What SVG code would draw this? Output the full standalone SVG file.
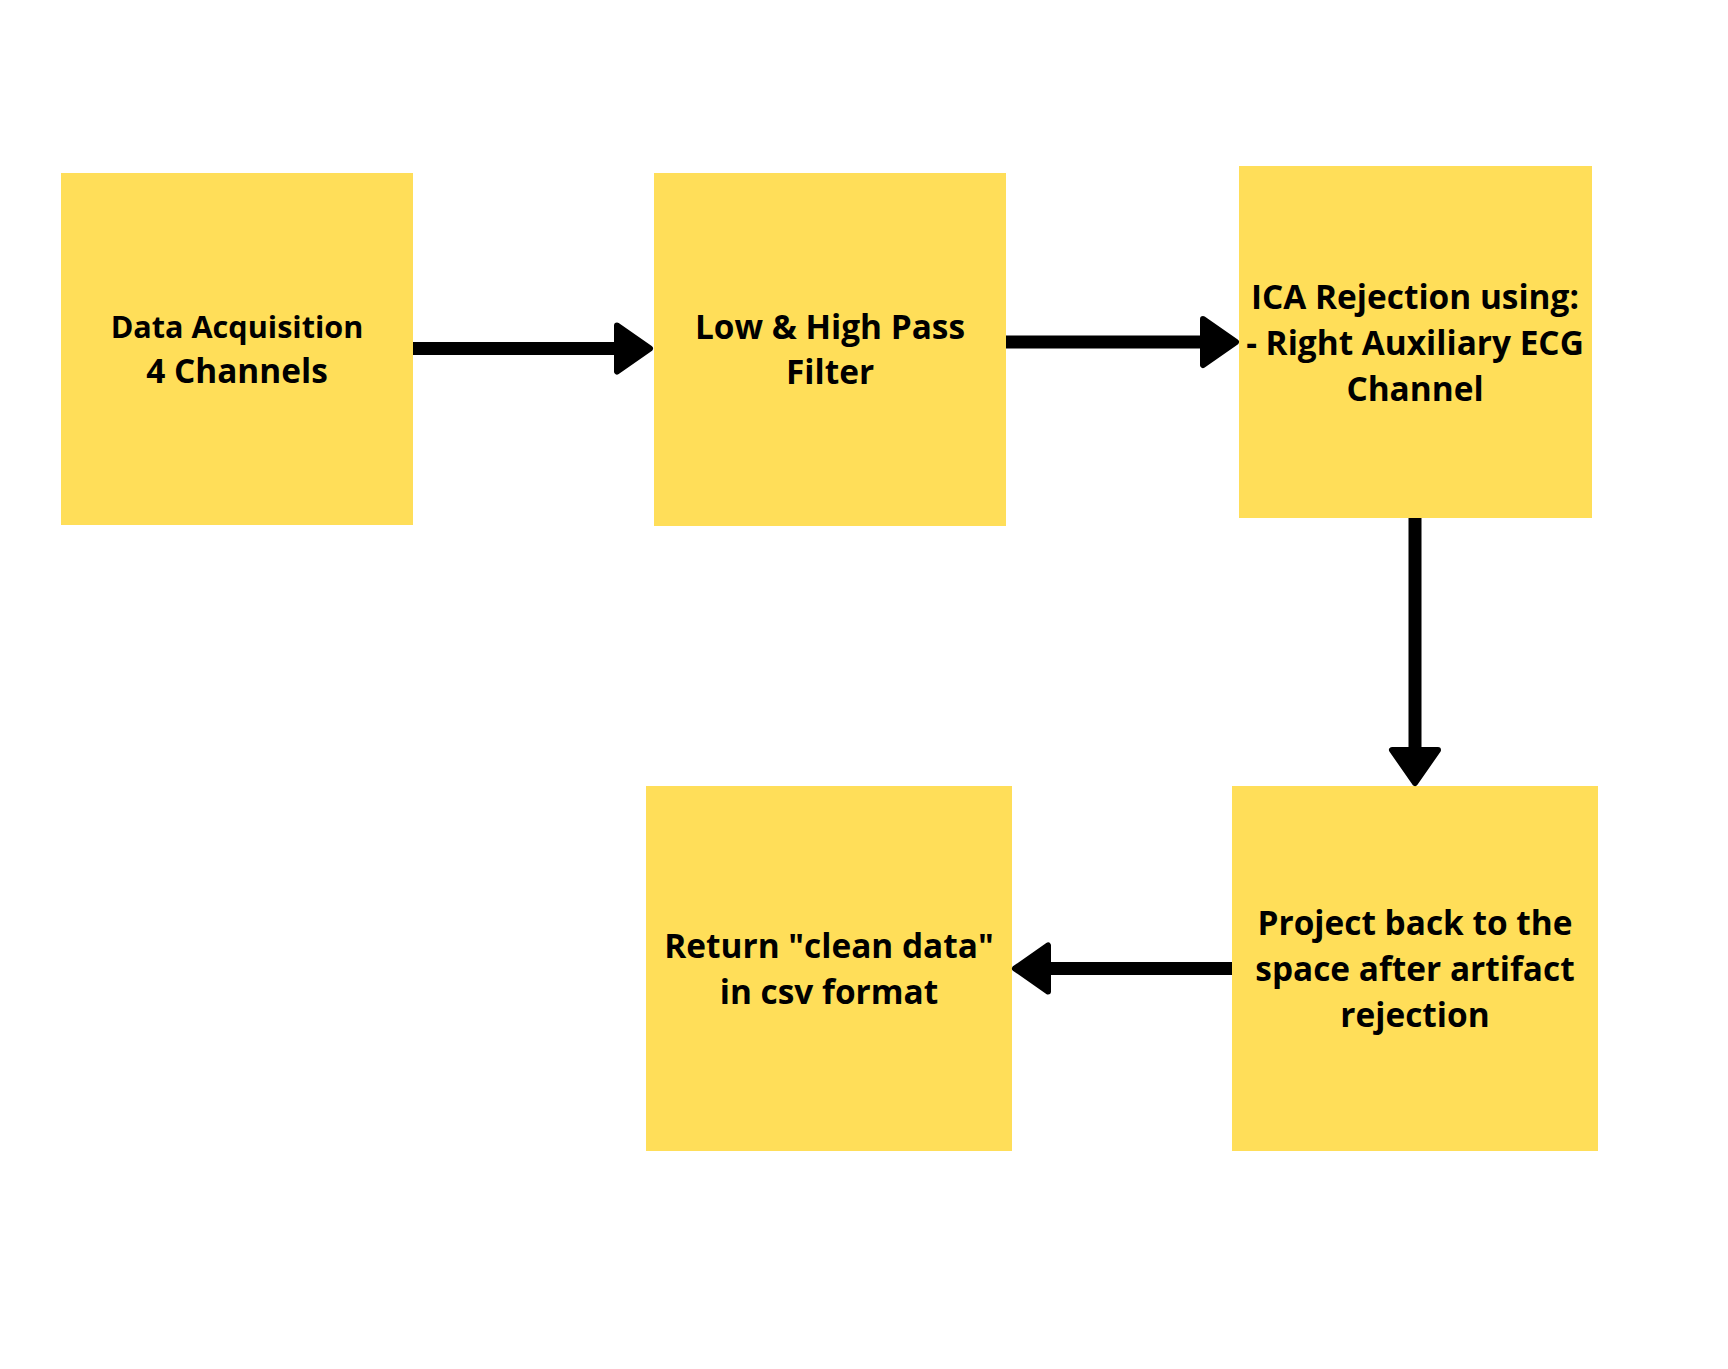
<svg xmlns="http://www.w3.org/2000/svg" width="1728" height="1369" viewBox="0 0 1728 1369">
<style>
.box{fill:#FFDE59;}
.lbl{font-family:"Open Sans","Noto Sans","Liberation Sans",sans-serif;font-weight:700;font-size:33.4px;fill:#000;text-anchor:middle;}
.conn{stroke:#000;stroke-width:13;fill:none;marker-end:url(#ah);}
</style>
<defs>
<marker id="ah" markerUnits="userSpaceOnUse" markerWidth="42" markerHeight="60" viewBox="0 0 42 60" refX="2" refY="28" orient="auto">
<path d="M3,5 L36,28 L3,51 Z" fill="#000" stroke="#000" stroke-width="6" stroke-linejoin="round"/>
</marker>
</defs>
<rect width="1728" height="1369" fill="#fff"/>
<g id="n1">
<rect class="box" x="61" y="173" width="352" height="352"/>
<text class="lbl" x="237" y="338" style="font-size:30.6px">Data Acquisition</text>
<text class="lbl" x="237" y="383">4 Channels</text>
</g>
<g id="n2">
<rect class="box" x="654" y="173" width="352" height="353"/>
<text class="lbl" x="830" y="339">Low &amp; High Pass</text>
<text class="lbl" x="830" y="384">Filter</text>
</g>
<g id="n3">
<rect class="box" x="1239" y="166" width="353" height="352"/>
<text class="lbl" x="1415" y="309">ICA Rejection using:</text>
<text class="lbl" x="1415" y="355">- Right Auxiliary ECG</text>
<text class="lbl" x="1415" y="401">Channel</text>
</g>
<g id="n4">
<rect class="box" x="646" y="786" width="366" height="365"/>
<text class="lbl" x="829" y="958">Return "clean data"</text>
<text class="lbl" x="829" y="1004">in csv format</text>
</g>
<g id="n5">
<rect class="box" x="1232" y="786" width="366" height="365"/>
<text class="lbl" x="1415" y="935">Project back to the</text>
<text class="lbl" x="1415" y="981">space after artifact</text>
<text class="lbl" x="1415" y="1027">rejection</text>
</g>
<g id="connectors">
<line class="conn" x1="413" y1="348.5" x2="616" y2="348.5"/>
<line class="conn" x1="1006" y1="342" x2="1202" y2="342"/>
<line class="conn" x1="1415" y1="518" x2="1415" y2="749"/>
<line class="conn" x1="1232" y1="968.5" x2="1049" y2="968.5"/>
</g>
</svg>
